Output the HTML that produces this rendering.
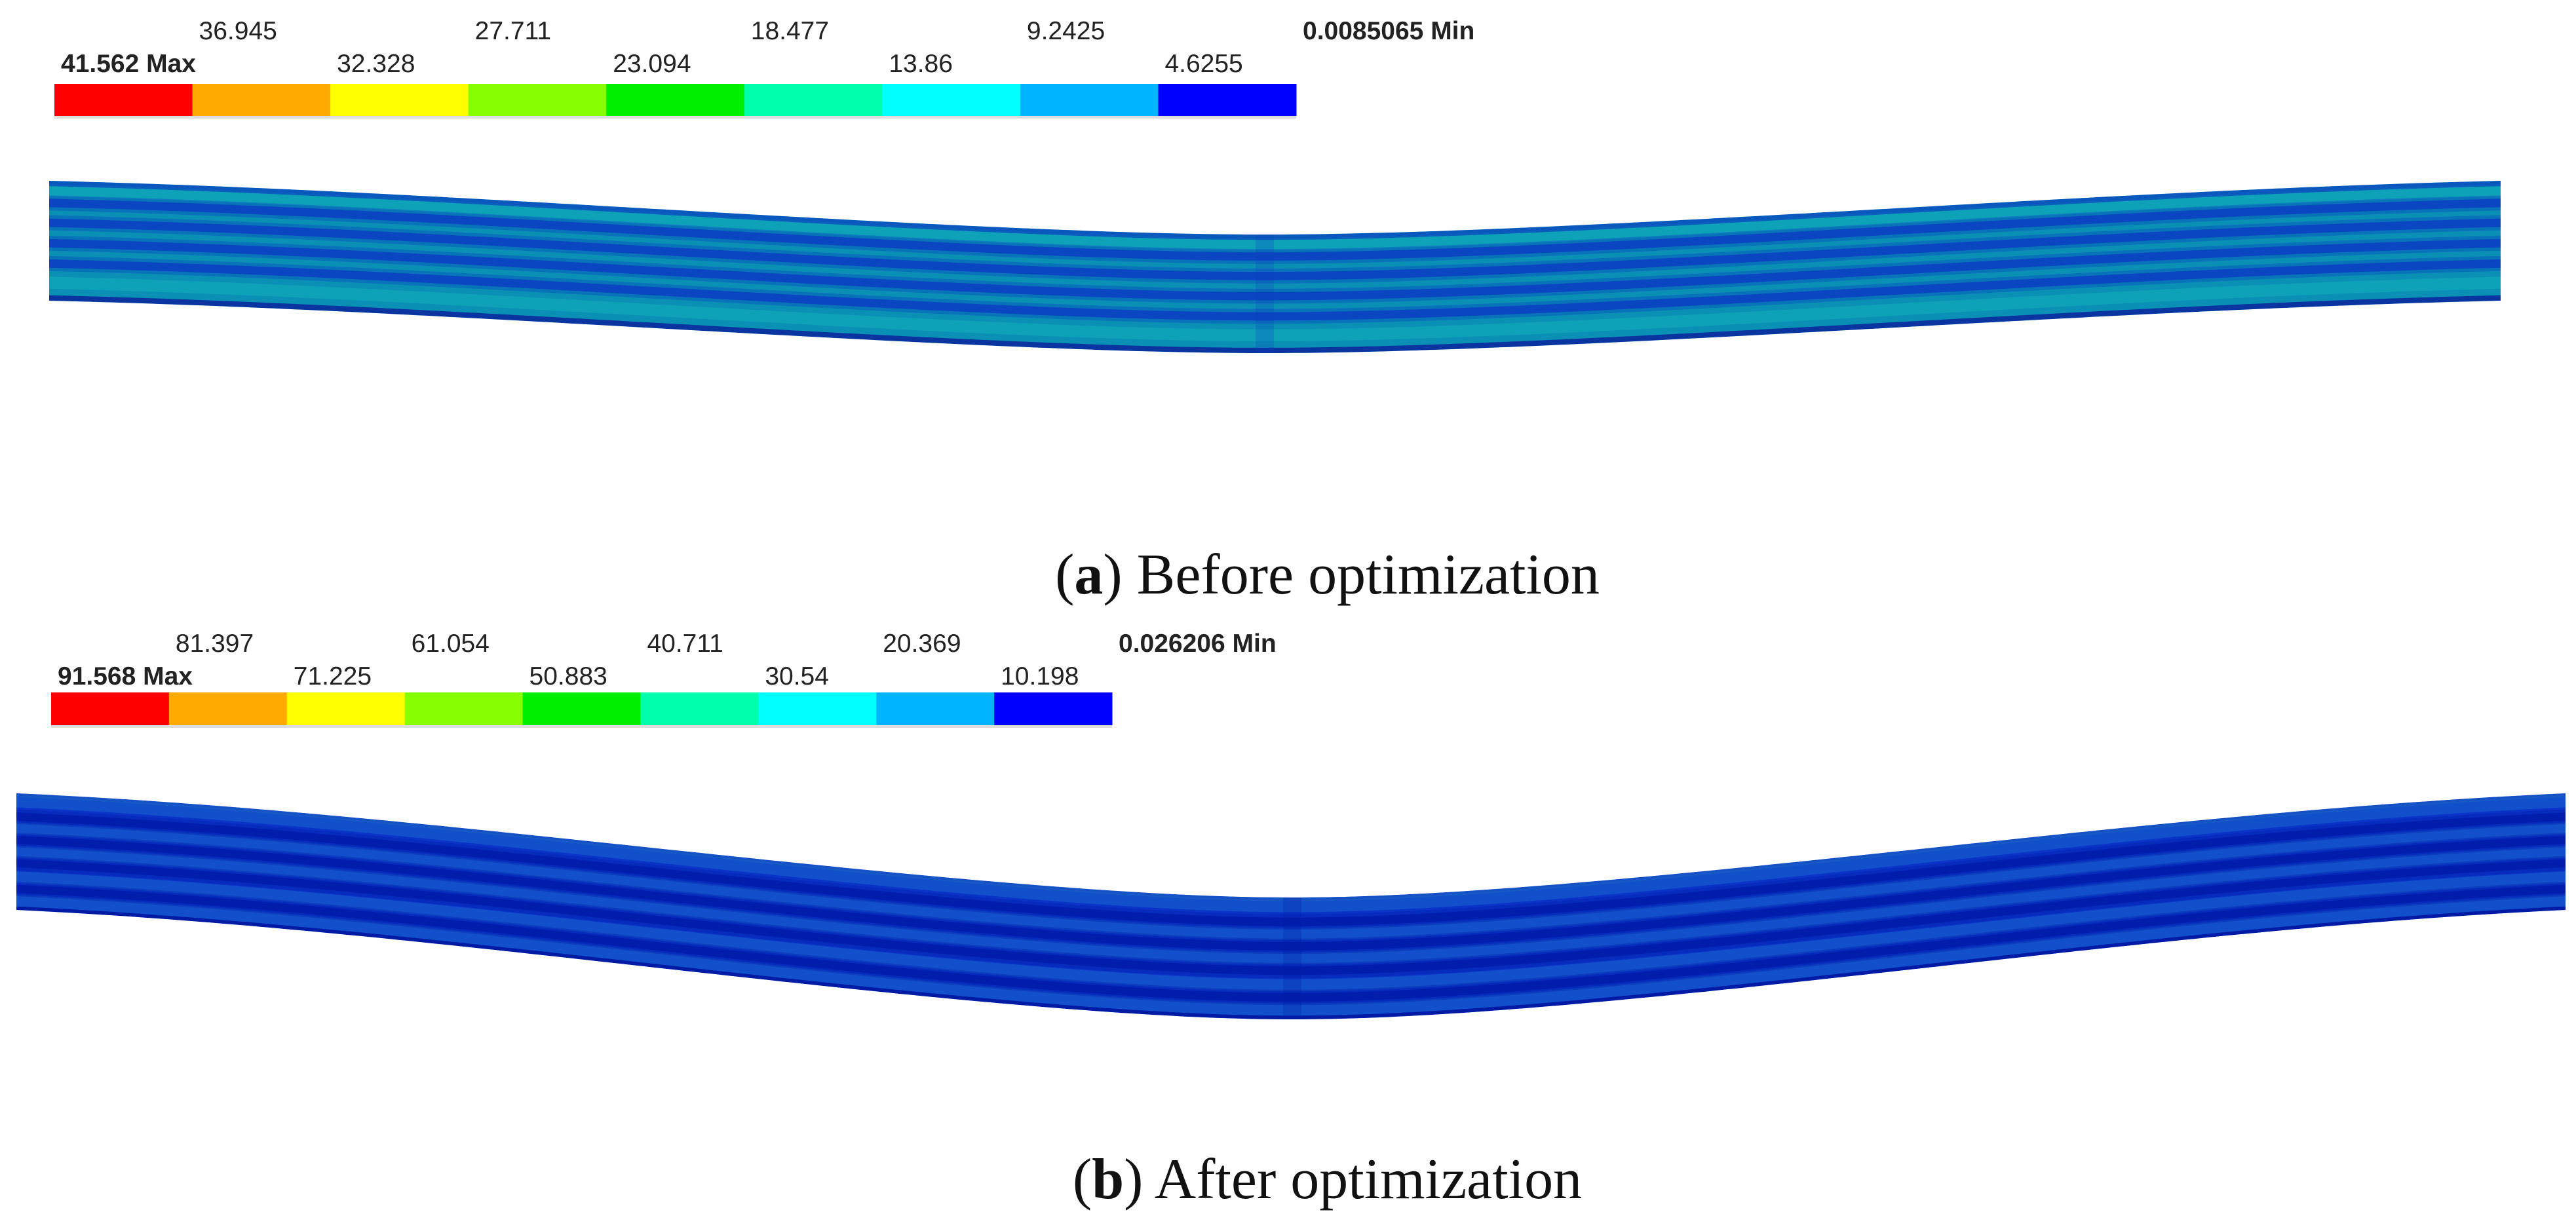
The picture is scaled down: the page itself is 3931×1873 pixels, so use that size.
<!DOCTYPE html>
<html><head><meta charset="utf-8">
<style>
html,body{margin:0;padding:0;background:#fff;}
body{width:3931px;height:1873px;position:relative;overflow:hidden;font-family:"Liberation Sans",sans-serif;}
.lbl{position:absolute;font-size:39px;color:#222;white-space:nowrap;line-height:1;}
.b{font-weight:bold;}
.cap{position:absolute;font-family:"Liberation Serif",serif;font-size:88px;line-height:1;color:#111;white-space:nowrap;text-align:center;width:3931px;left:0;}
</style></head>
<body>
<svg id="fig" width="3931" height="1873" style="position:absolute;left:0;top:0">
</svg>
<div class="cap" style="top:834px;left:60px">(<b>a</b>) Before optimization</div>
<div class="cap" style="top:1757px;left:60px">(<b>b</b>) After optimization</div>
<script>
const bandColors = ["#ff0000","#ffaa00","#ffff00","#88ff00","#00ee00","#00ffaa","#00ffff","#00b4ff","#0000ff"];
const labelsA = ["41.562 Max","36.945","32.328","27.711","23.094","18.477","13.86","9.2425","4.6255","0.0085065 Min"];
const labelsB = ["91.568 Max","81.397","71.225","61.054","50.883","40.711","30.54","20.369","10.198","0.026206 Min"];
const NS="http://www.w3.org/2000/svg";
const svg=document.getElementById('fig');
function mk(t,a){const e=document.createElementNS(NS,t);for(const k in a)e.setAttribute(k,a[k]);return e;}

function legend(x0,x1,y0,y1,labels,row1Top,row2Top,name){
  const g=mk('g',{});
  
  
  svg.appendChild(g);
  const w=(x1-x0)/bandColors.length;
  bandColors.forEach((c,i)=>{
    const r=mk('rect',{x:x0+i*w,y:y0,width:w+0.5,height:y1-y0,fill:c});
    
    
    g.appendChild(r);
  });
  g.appendChild(mk('rect',{x:x0,y:y1,width:x1-x0,height:4,fill:'#ddd'}));
  labels.forEach((t,i)=>{
    const d=document.createElement('div');
    d.className='lbl'+((i===0||i===labels.length-1)?' b':'');
    d.textContent=t;
    d.style.left=(x0+i*w+10)+'px';
    d.style.top=((i%2===1)?row1Top:row2Top)+'px';
    
    
    document.body.appendChild(d);
  });
}
legend(83,1978,128,177,labelsA,28,78,'legend-a');
legend(78,1697,1057,1107,labelsB,963,1013,'legend-b');

function shape(s){s=Math.abs(s);if(s>1)s=1;const h=(1-s)*(1-s)*(1+2*s);const sm=Math.sqrt(s*s+0.012)-Math.sqrt(0.012);const l=1-sm/(Math.sqrt(1.012)-Math.sqrt(0.012));return 0.5*h+0.5*l;}
function beam(p,name){
  const g=mk('g',{});
  
  
  svg.appendChild(g);
  const N=240;
  function sv(x){return x<p.xm?(x-p.xm)/(p.xm-p.x0):(x-p.xm)/(p.x1-p.xm);}
  function top(x){return p.t0+p.dt*shape(sv(x));}
  function bot(x){return p.b0+p.db*shape(sv(x));}
  function band(t1,t2){let d='';
    for(let i=0;i<=N;i++){const x=p.x0+(p.x1-p.x0)*i/N;const y=top(x)+t1*(bot(x)-top(x));d+=(i?'L':'M')+x.toFixed(1)+','+y.toFixed(1);}
    for(let i=N;i>=0;i--){const x=p.x0+(p.x1-p.x0)*i/N;const y=top(x)+t2*(bot(x)-top(x));d+='L'+x.toFixed(1)+','+y.toFixed(1);}
    return d+'Z';}
  const out=band(0,1);
  const cid='clip'+name;
  const cp=mk('clipPath',{id:cid});cp.appendChild(mk('path',{d:out}));svg.appendChild(cp);
  g.appendChild(mk('path',{d:out,fill:p.base}));
  const inner=mk('g',{'clip-path':'url(#'+cid+')'});g.appendChild(inner);
  p.light.forEach(t=>{inner.appendChild(mk('path',{d:band(t-p.lw,t+p.lw),fill:p.lightc,opacity:0.55}));});
  p.stripes.forEach(t=>{
    inner.appendChild(mk('path',{d:band(t-p.sw*1.8,t+p.sw*1.8),fill:p.stripe,opacity:0.35}));
    inner.appendChild(mk('path',{d:band(t-p.sw,t+p.sw),fill:p.stripe,opacity:0.85}));
  });
  inner.appendChild(mk('path',{d:band(0,p.ew),fill:p.edge,opacity:0.7}));
  inner.appendChild(mk('path',{d:band(1-p.ew,1),fill:p.edgeB,opacity:0.9}));
  inner.appendChild(mk('rect',{x:p.xm-14,y:0,width:28,height:1873,fill:p.stripe,opacity:0.25}));
}
beam({x0:75,x1:3816,xm:1930,t0:276,dt:82,b0:459,db:80,base:'#0a90b4',stripe:'#0a3ec2',sw:0.035,light:[0.08,0.85],lw:0.05,lightc:'#12b0bc',
  stripes:[0.185,0.35,0.52,0.69],edge:'#0a40c0',edgeB:'#0a2a9c',ew:0.045},'beam-a');
beam({x0:25,x1:3915,xm:1972,t0:1211,dt:159,b0:1389,db:167,base:'#0a34c8',stripe:'#001ca8',sw:0.035,light:[0.07,0.3,0.5,0.72,0.92],lw:0.05,lightc:'#1a66cc',
  stripes:[0.2,0.4,0.6,0.82],edge:'#1a60c4',edgeB:'#0018a0',ew:0.03},'beam-b');
</script>
</body></html>
